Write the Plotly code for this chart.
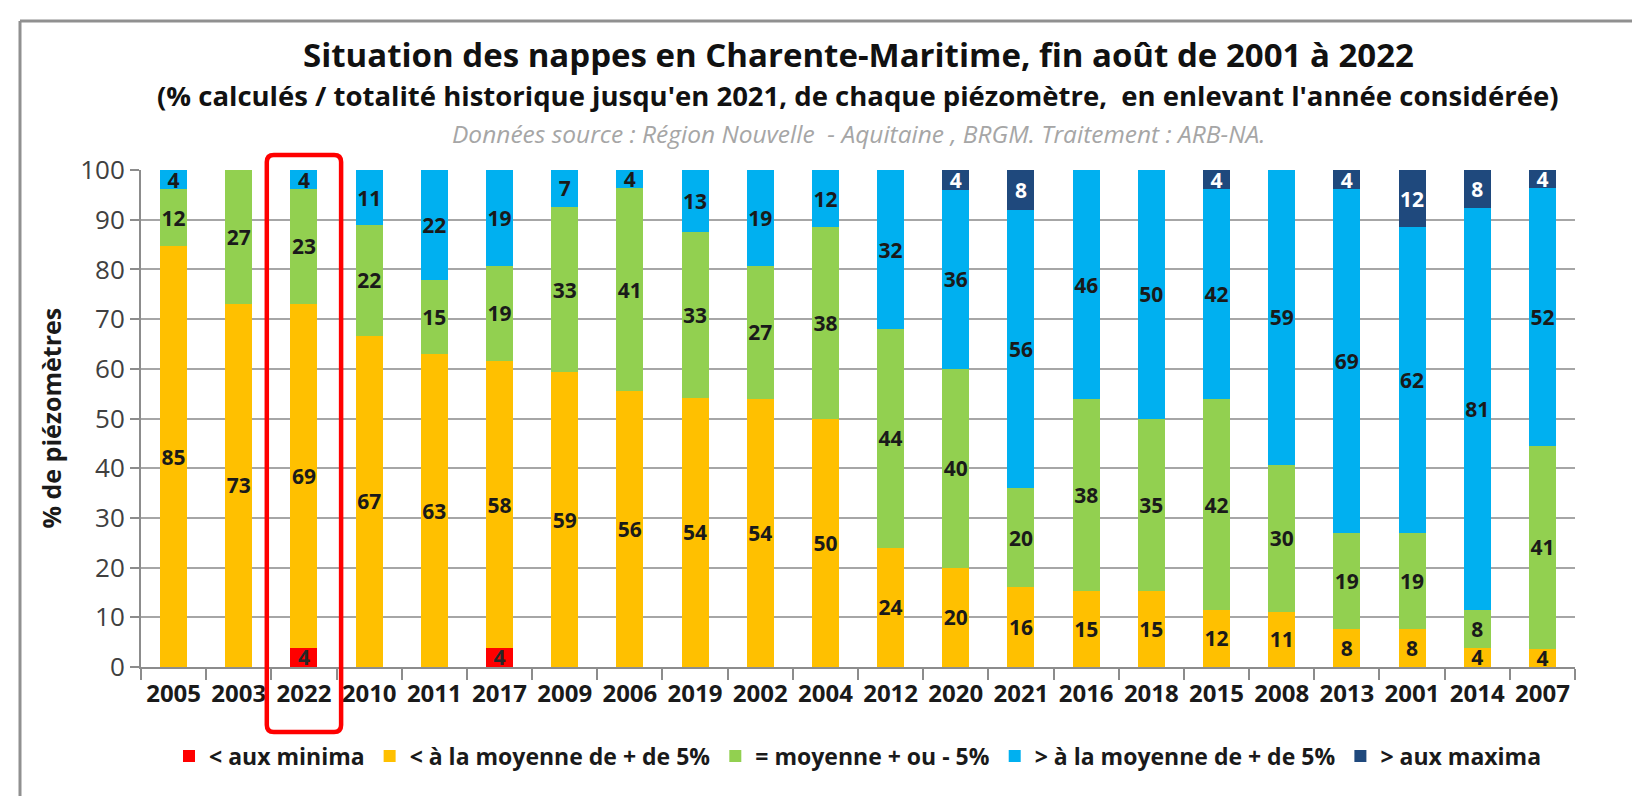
import plotly.graph_objects as go

years = ["2005", "2003", "2022", "2010", "2011", "2017", "2009", "2006", "2019", "2002", "2004",
         "2012", "2020", "2021", "2016", "2018", "2015", "2008", "2013", "2001", "2014", "2007"]
minima = [None, None, 3.85, None, None, 3.85, None, None, None, None, None,
          None, None, None, None, None, None, None, None, None, None, None]
below = [84.62, 73.08, 69.23, 66.67, 62.96, 57.69, 59.26, 55.56, 54.17, 53.85, 50.00,
         24.00, 20.00, 16.00, 15.38, 15.38, 11.54, 11.11, 7.69, 7.69, 3.85, 3.70]
normal = [11.54, 26.92, 23.08, 22.22, 14.81, 19.23, 33.33, 40.74, 33.33, 26.92, 38.46,
          44.00, 40.00, 20.00, 38.46, 34.62, 42.31, 29.63, 19.23, 19.23, 7.69, 40.74]
above = [3.85, None, 3.85, 11.11, 22.22, 19.23, 7.41, 3.70, 12.50, 19.23, 11.54,
         32.00, 36.00, 56.00, 46.15, 50.00, 42.31, 59.26, 69.23, 61.54, 80.77, 51.85]
maxima = [None, None, None, None, None, None, None, None, None, None, None,
          None, 4.00, 8.00, None, None, 3.85, None, 3.85, 11.54, 7.69, 3.70]

series_names = ["< aux minima", "< à la moyenne de + de 5%", "= moyenne + ou - 5%",
                "> à la moyenne de + de 5%", "> aux maxima"]
series_values = [minima, below, normal, above, maxima]
series_colors = ["#FF0000", "#FFC000", "#92D050", "#00B0F0", "#1F497D"]
label_colors = ["#262626", "#1a1a1a", "#1a1a1a", "#1a1a1a", "#FFFFFF"]

title = "Situation des nappes en Charente-Maritime, fin août de 2001 à 2022"
subtitle = "(% calculés / totalité historique jusqu'en 2021, de chaque piézomètre,  en enlevant l'année considérée)"
source = "Données source : Région Nouvelle  - Aquitaine , BRGM. Traitement : ARB-NA."
y_title = "% de piézomètres"
highlight_year = "2022"

FONT = "Open Sans"
W, H = 1640, 796
L, R, T, B = 133, 73, 162, 137
PW, PH = W - L - R, H - T - B


def px(xp):
    return (xp - L) / PW


def py(yp):
    return (H - B - yp) / PH


fig = go.Figure()
for name, vals, col, lcol in zip(series_names, series_values, series_colors, label_colors):
    fig.add_trace(go.Bar(
        x=years, y=vals, name=name, marker=dict(color=col, line=dict(width=0)),
        texttemplate="%{y:.0f}", textposition="inside", insidetextanchor="middle",
        textangle=0, constraintext="none",
        textfont=dict(family=FONT, size=21, color=lcol, weight="bold"),
        hoverinfo="x+y+name",
    ))

fig.update_layout(
    width=W, height=H, barmode="stack", bargap=0.585,
    margin=dict(l=L, r=R, t=T, b=B, autoexpand=False),
    paper_bgcolor="white", plot_bgcolor="white",
    font=dict(family=FONT, color="#1a1a1a"),
    showlegend=True,
    legend=dict(orientation="h", x=0.5, xanchor="center", y=py(748), yanchor="middle",
                traceorder="normal", font=dict(family=FONT, size=23, color="#1a1a1a", weight="bold"),
                itemwidth=30, bgcolor="rgba(0,0,0,0)"),
    xaxis=dict(type="category", showgrid=False, showline=True, linecolor="#8c8c8c", linewidth=2,
               ticks="outside", tickson="boundaries", ticklen=11, tickcolor="#8c8c8c", tickwidth=2,
               tickangle=0,
               tickfont=dict(family=FONT, size=24, color="#1a1a1a", weight="bold"), ticklabelstandoff=4),
    yaxis=dict(range=[0, 100], dtick=10, showgrid=True, gridcolor="#a6a6a6", gridwidth=1.5,
               showline=True, linecolor="#8c8c8c", linewidth=2, ticks="outside", ticklen=9,
               tickcolor="#8c8c8c", tickwidth=1.5, zeroline=False,
               tickfont=dict(family=FONT, size=26, color="#404040")),
)

fig.add_annotation(text=title, xref="paper", yref="paper", x=0.5, y=py(47), xanchor="center",
                   yanchor="middle", showarrow=False,
                   font=dict(family=FONT, size=33, color="#111111", weight="bold"))
fig.add_annotation(text=subtitle, xref="paper", yref="paper", x=0.5, y=py(88), xanchor="center",
                   yanchor="middle", showarrow=False,
                   font=dict(family=FONT, size=27.5, color="#111111", weight="bold"))
fig.add_annotation(text=source, xref="paper", yref="paper", x=0.5, y=py(126), xanchor="center",
                   yanchor="middle", showarrow=False,
                   font=dict(family=FONT, size=24.5, color="#a6a6a6", style="italic"))
fig.add_annotation(text=y_title, xref="paper", yref="paper", x=px(42), y=0.5, xanchor="center",
                   yanchor="middle", showarrow=False, textangle=-90,
                   font=dict(family=FONT, size=25, color="#1a1a1a", weight="bold"))

# outer frame (top and left edges visible)
fig.add_shape(type="line", xref="paper", yref="paper", x0=px(12), x1=px(W + 5), y0=py(13), y1=py(13),
              line=dict(color="#909090", width=3))
fig.add_shape(type="line", xref="paper", yref="paper", x0=px(12), x1=px(12), y0=py(13), y1=py(H + 5),
              line=dict(color="#909090", width=3))

# highlight box (rounded) around the selected year
idx = years.index(highlight_year)
n = len(years)
x0, x1 = (idx + 0.5 - 0.57) / n, (idx + 0.5 + 0.57) / n
y0, y1 = py(724), py(147)
rx, ry = 7 / PW, 7 / PH
path = (f"M {x0 + rx},{y1} L {x1 - rx},{y1} Q {x1},{y1} {x1},{y1 - ry} "
        f"L {x1},{y0 + ry} Q {x1},{y0} {x1 - rx},{y0} L {x0 + rx},{y0} Q {x0},{y0} {x0},{y0 + ry} "
        f"L {x0},{y1 - ry} Q {x0},{y1} {x0 + rx},{y1} Z")
fig.add_shape(type="path", xref="paper", yref="paper", path=path,
              line=dict(color="#FF0000", width=4.5), fillcolor="rgba(0,0,0,0)")

fig.write_html("out.html")
